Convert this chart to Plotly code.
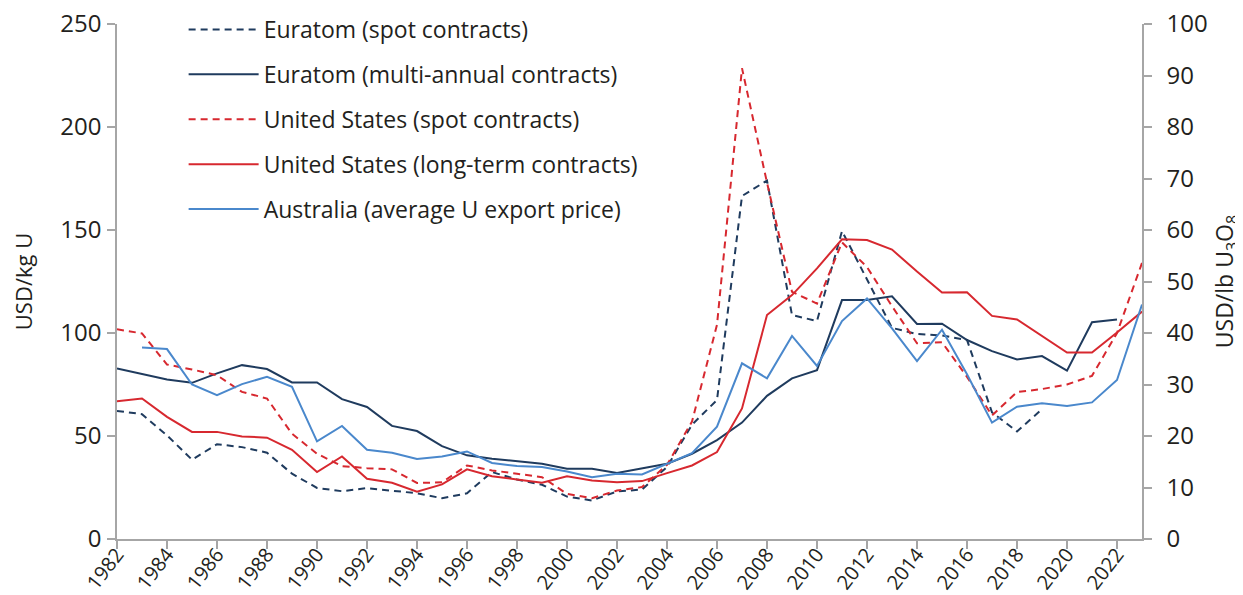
import plotly.graph_objects as go

years = list(range(1982, 2024))

euratom_spot = [62.2, 60.6, 50.3, 38.5, 46.0, 44.6, 41.9, 31.7, 24.8, 23.2,
                24.7, 23.5, 22.2, 19.8, 22.2, 32.5, 28.9, 26.3, 20.6, 18.7,
                23.1, 24.0, 35.0, 55.5, 67.5, 166.5, 174.0, 108.7, 105.8, 149.5,
                126.0, 102.5, 99.5, 98.8, 96.6, 61.5, 52.2, 63.0, None, None,
                None, None]

euratom_multi = [82.8, 80.0, 77.4, 75.8, 80.4, 84.4, 82.5, 76.0, 76.0, 67.9,
                 64.1, 54.9, 52.4, 45.1, 40.6, 39.0, 37.7, 36.5, 34.1, 34.1,
                 32.0, 34.4, 36.5, 41.4, 48.0, 56.5, 69.5, 78.0, 82.0, 116.0,
                 116.0, 117.8, 104.4, 104.5, 96.6, 91.2, 87.2, 88.8, 81.7, 105.2,
                 106.6, None]

us_spot = [101.8, 99.8, 84.7, 82.3, 79.5, 71.4, 68.2, 51.1, 41.4, 35.4,
           34.4, 33.8, 27.2, 27.5, 35.7, 33.3, 31.7, 30.0, 21.9, 19.8,
           23.5, 25.2, 36.0, 57.0, 104.0, 228.5, 173.0, 120.0, 114.3, 144.0,
           132.0, 113.0, 95.0, 95.5, 78.7, 60.0, 71.3, 72.8, 75.0, 79.2,
           100.0, 134.0]

us_long = [66.9, 68.2, 59.3, 52.0, 52.0, 49.8, 49.2, 43.3, 32.5, 40.1,
           29.2, 27.3, 23.0, 26.5, 33.8, 30.5, 28.9, 27.3, 30.4, 28.4,
           27.6, 28.1, 32.0, 35.7, 42.2, 63.4, 108.7, 118.4, 131.4, 145.5,
           145.1, 140.5, 129.8, 119.7, 119.8, 108.3, 106.6, 98.5, 90.5, 90.5,
           100.2, 110.4]

australia = [None, 93.0, 92.2, 75.0, 69.8, 75.2, 78.7, 73.9, 47.4, 54.9,
             43.3, 41.9, 38.8, 40.1, 42.5, 36.9, 35.4, 34.9, 32.8, 30.0,
             31.7, 31.3, 36.5, 41.7, 54.5, 85.3, 78.0, 98.6, 84.0, 105.8,
             116.8, 102.2, 86.4, 101.6, 80.0, 56.5, 64.2, 65.9, 64.6, 66.3,
             77.2, 113.8]

x_ticks = list(range(1982, 2023, 2))
left_ticks = [0, 50, 100, 150, 200, 250]
right_ticks = [0, 10, 20, 30, 40, 50, 60, 70, 80, 90, 100]

NAVY = "#1f3b5e"
RED = "#d7282f"
BLUE = "#4a88cc"
DASH = "7px,5px"

series = [
    ("Euratom (spot contracts)", euratom_spot, NAVY, DASH),
    ("Euratom (multi-annual contracts)", euratom_multi, NAVY, "solid"),
    ("United States (spot contracts)", us_spot, RED, DASH),
    ("United States (long-term contracts)", us_long, RED, "solid"),
    ("Australia (average U export price)", australia, BLUE, "solid"),
]

fig = go.Figure()
for i, (name, vals, col, dash) in enumerate(series):
    fig.add_trace(go.Scatter(
        x=years, y=vals, name=name, mode="lines",
        line=dict(color=col, width=2, dash=dash),
        connectgaps=False, legendgroup=f"g{i}",
    ))

# empty trace so the secondary (USD/lb U3O8) axis is drawn
fig.add_trace(go.Scatter(x=[None], y=[None], yaxis="y2", showlegend=False,
                         hoverinfo="skip", mode="lines"))

FONT = "Open Sans"
FS = 23
TXT = "#231f20"
AX = "#a6a6a6"

# page body has an 8px default margin, so the figure is 8px smaller
W, H = 1235, 587
L, R, B, T_OFF = 109, 101, 56, 16
dom_top = (H - B - T_OFF) / (H - B)

fig.update_layout(
    width=W, height=H,
    margin=dict(l=L, r=R, t=0, b=B, autoexpand=False),
    paper_bgcolor="white", plot_bgcolor="white",
    font=dict(family=FONT, size=FS, color=TXT),
    showlegend=True,
    legend=dict(
        x=0.065, y=1.0, xanchor="left", yanchor="top",
        bgcolor="rgba(0,0,0,0)", font=dict(size=FS, color=TXT),
        tracegroupgap=12, itemwidth=70,
    ),
    xaxis=dict(
        range=[1982, 2023], tickmode="array", tickvals=x_ticks,
        ticktext=[str(t) for t in x_ticks], tickangle=-52,
        showgrid=False, zeroline=False, automargin=False,
        showline=True, linecolor=AX, linewidth=1.5,
        ticks="outside", ticklen=8, tickcolor=AX, tickwidth=1.5,
        ticklabelstandoff=-14, ticklabeloverflow="allow",
        tickfont=dict(size=FS - 3, color=TXT),
    ),
    yaxis=dict(
        range=[0, 250], tickmode="array", tickvals=left_ticks,
        domain=[0, dom_top], automargin=False,
        showgrid=False, zeroline=False,
        showline=True, linecolor=AX, linewidth=1.5,
        ticks="outside", ticklen=8, tickcolor=AX, tickwidth=1.5,
        ticklabelstandoff=1, ticklabeloverflow="allow",
        tickfont=dict(size=FS + 1, color=TXT),
        title=dict(text="USD/kg U", font=dict(size=FS - 1, color=TXT), standoff=24),
    ),
    yaxis2=dict(
        range=[0, 100], tickmode="array", tickvals=right_ticks,
        overlaying="y", side="right", anchor="x", automargin=False,
        showgrid=False, zeroline=False,
        showline=True, linecolor=AX, linewidth=1.5,
        ticks="outside", ticklen=8, tickcolor=AX, tickwidth=1.5,
        ticklabelstandoff=10, ticklabeloverflow="allow",
        tickfont=dict(size=FS + 1, color=TXT),
        title=dict(text="USD/lb U<sub>3</sub>O<sub>8</sub>",
                   font=dict(size=FS, color=TXT), standoff=20),
    ),
)

fig.write_html("out.html")
